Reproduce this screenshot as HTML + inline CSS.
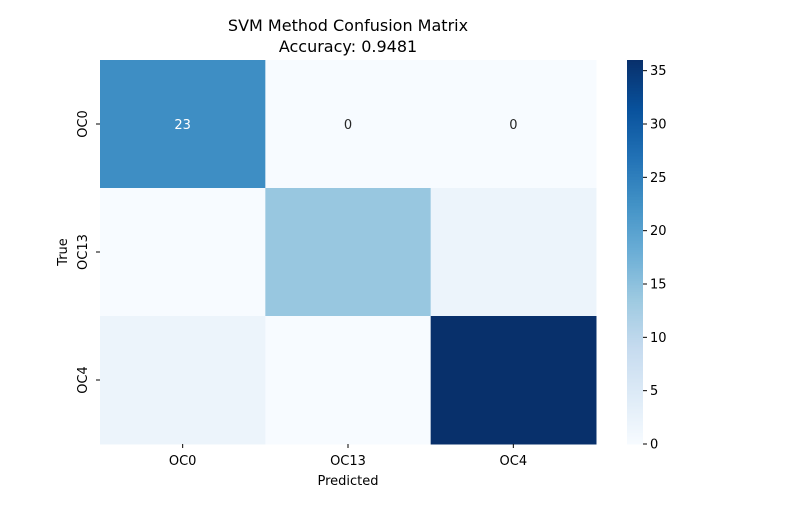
<!DOCTYPE html>
<html><head><meta charset="utf-8"><style>
body{margin:0;background:#fff;font-family:"Liberation Sans","DejaVu Sans",sans-serif;}
svg text{font-family:"DejaVu Sans","Liberation Sans",sans-serif;}
</style></head><body>
<svg id="chart" width="800" height="500" xmlns="http://www.w3.org/2000/svg">
<rect width="800" height="500" fill="#fff"/>
<text x="348" y="31" font-size="16" text-anchor="middle">SVM Method Confusion Matrix</text>
<text x="348" y="52" font-size="16" text-anchor="middle">Accuracy: 0.9481</text>
<g id="cells"></g><g id="ticks"></g><g id="cbar"></g>
<text x="348" y="485" font-size="13" text-anchor="middle">Predicted</text>
<text x="67" y="252" font-size="13" text-anchor="middle" transform="rotate(-90 67 252)">True</text>
</svg>
<script>
const labels=["OC0","OC13","OC4"];
const row0=[23,0,0];
const row1=[0,14,2];
const row2=[2,0,36];
const annotatedRows=[true,false,false];
const cbarTicks=[0,5,10,15,20,25,30,35];
const vmax=36;
const matrix=[row0,row1,row2];
const stops=["#f7fbff","#deebf7","#c6dbef","#9ecae1","#6baed6","#4292c6","#2171b5","#08519c","#08306b"];
function hex(h){return [1,3,5].map(i=>parseInt(h.substr(i,2),16));}
function blues(t){t=Math.max(0,Math.min(1,t));const p=t*(stops.length-1);const i=Math.min(Math.floor(p),stops.length-2);const f=p-i;const a=hex(stops[i]),b=hex(stops[i+1]);return "rgb("+a.map((v,k)=>Math.round(v+(b[k]-v)*f)).join(",")+")";}
const NS="http://www.w3.org/2000/svg";
const X0=100,Y0=60,W=496,H=384;const cw=W/3,ch=H/3;
const xs=j=>X0+j*cw, ys=i=>Y0+i*ch;
function mk(tag,attrs,parent,txt){const e=document.createElementNS(NS,tag);for(const k in attrs)e.setAttribute(k,attrs[k]);if(txt!==undefined)e.textContent=txt;parent.appendChild(e);return e;}
const cells=document.getElementById('cells'),ticks=document.getElementById('ticks'),cb=document.getElementById('cbar');
matrix.forEach((row,i)=>row.forEach((v,j)=>{
 const r=mk('rect',{x:xs(j),y:ys(i),width:cw+0.5,height:ch+0.5,fill:blues(v/vmax)},cells);
 
 
 if(annotatedRows[i]){
  const t=mk('text',{x:xs(j)+cw/2,y:ys(i)+ch/2+5,'font-size':13,'text-anchor':'middle',fill:v/vmax>0.5?'#fff':'#262626'},cells,String(v));
  
  
 }
}));
labels.forEach((l,k)=>{
 const cx=xs(k)+cw/2;
 mk('line',{x1:cx,x2:cx,y1:444,y2:448,stroke:'#000'},ticks);
 const t=mk('text',{x:cx,y:465,'font-size':13,'text-anchor':'middle'},ticks,l);
 
 
 const cy=ys(k)+ch/2;
 mk('line',{x1:96,x2:100,y1:cy,y2:cy,stroke:'#000'},ticks);
 const u=mk('text',{x:87,y:cy,'font-size':13,'text-anchor':'middle',transform:'rotate(-90 87 '+cy+')'},ticks,l);
 
 
});
const CX=627,CW=16;const cy=v=>Y0+H-(v/vmax)*H;
for(let s=0;s<H;s++){mk('rect',{x:CX,y:Y0+H-s-1,width:CW,height:1.5,fill:blues((s+0.5)/H)},cb);}
const cbr=mk('rect',{x:CX,y:Y0,width:CW,height:H,fill:'none'},cb);


cbarTicks.forEach(v=>{
 const y=cy(v);
 mk('line',{x1:CX+CW,x2:CX+CW+4,y1:y,y2:y,stroke:'#000'},cb);
 const t=mk('text',{x:CX+CW+7,y:y+4.5,'font-size':13},cb,String(v));
 
 
});
</script>
</body></html>
